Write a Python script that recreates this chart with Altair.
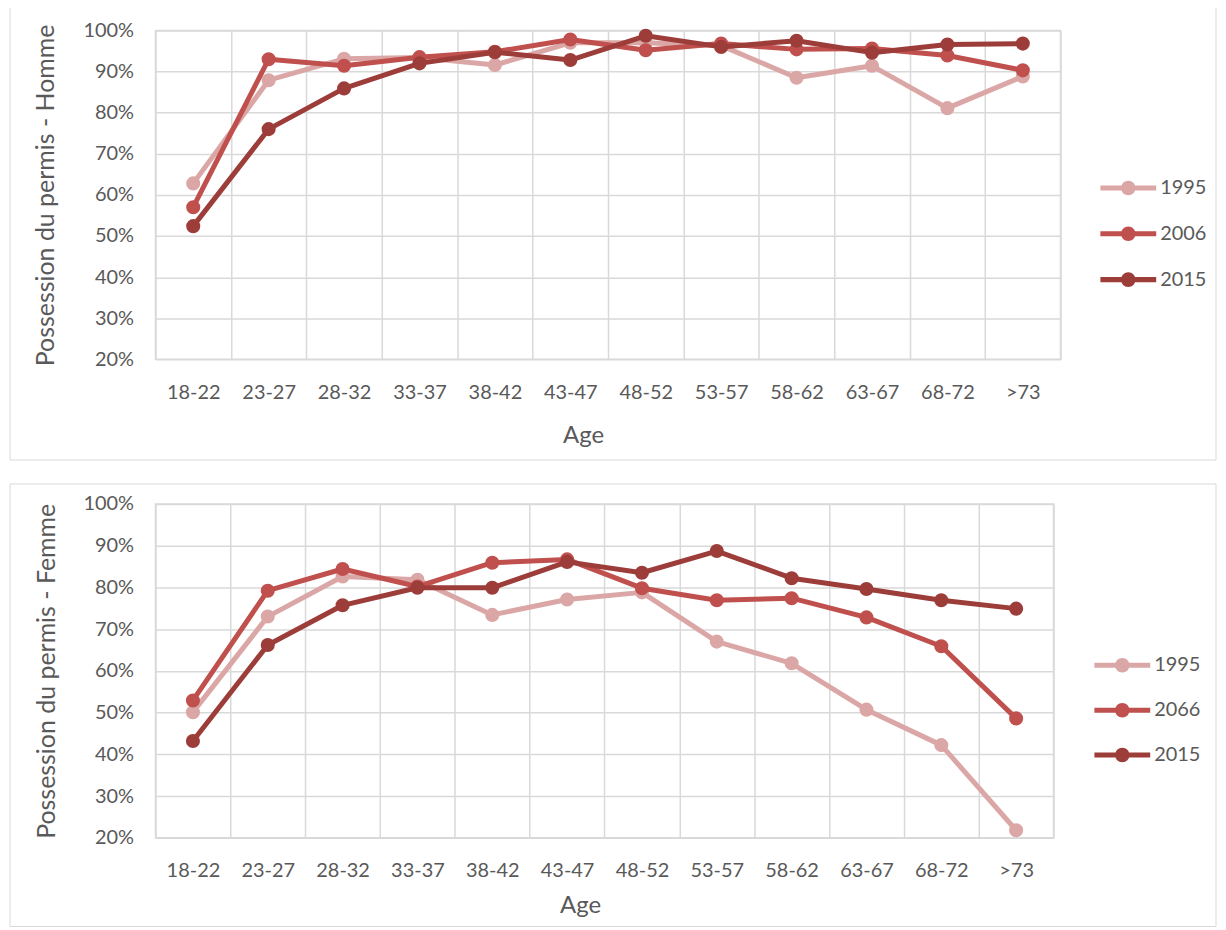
import altair as alt
import pandas as pd

ages = ["18-22", "23-27", "28-32", "33-37", "38-42", "43-47",
        "48-52", "53-57", "58-62", "63-67", "68-72", ">73"]

homme_years = ["1995", "2006", "2015"]
homme_1995 = [62.8, 87.9, 93.1, 93.4, 91.6, 97.0, 97.0, 96.3, 88.5, 91.4, 81.1, 88.8]
homme_2006 = [57.0, 93.0, 91.4, 93.5, 94.8, 97.8, 95.2, 96.8, 95.4, 95.6, 93.9, 90.3]
homme_2015 = [52.4, 76.0, 85.9, 92.0, 94.7, 92.8, 98.7, 96.0, 97.5, 94.6, 96.6, 96.8]

femme_years = ["1995", "2066", "2015"]
femme_1995 = [50.1, 73.0, 82.6, 81.8, 73.4, 77.1, 78.8, 67.0, 61.8, 50.7, 42.2, 21.8]
femme_2066 = [52.9, 79.2, 84.4, 80.2, 85.9, 86.7, 79.8, 76.9, 77.4, 72.8, 65.9, 48.6]
femme_2015 = [43.2, 66.2, 75.7, 79.9, 79.9, 86.1, 83.5, 88.7, 82.2, 79.6, 76.9, 74.9]

y_ticks = [0.2, 0.3, 0.4, 0.5, 0.6, 0.7, 0.8, 0.9, 1.0]
colors = ["#DBA7A6", "#C0504D", "#9C3D3A"]

FONT = "Lato"
TXT = "#595959"
GRID = "#D9D9D9"

LEG_PATH = ("M-1,-0.09 H1 V0.09 H-1 Z "
            "M0.26,0 A0.26,0.26 0 1,1 -0.26,0 A0.26,0.26 0 1,1 0.26,0 Z")


def panel(years, series, ytitle, w, h, frame, title_x, title_y, ytitle_x, xlab_pad,
          leg_x, leg_y, row_pad):
    rows = []
    for yr, vals in zip(years, series):
        for a, v in zip(ages, vals):
            rows.append({"age": a, "year": yr, "value": v / 100})
    df = pd.DataFrame(rows)

    legend = alt.Legend(
        orient="none", legendX=leg_x, legendY=leg_y, title=None,
        symbolType=LEG_PATH, symbolSize=3136, symbolStrokeWidth=0,
        symbolOpacity=1, labelFont=FONT, labelFontSize=20, labelColor=TXT,
        labelOffset=4, rowPadding=row_pad, padding=0,
    )
    color = alt.Color("year:N", scale=alt.Scale(domain=years, range=colors), legend=legend)
    x = alt.X(
        "age:N", sort=ages, title="Age",
        scale=alt.Scale(type="band", domain=ages, paddingInner=0, paddingOuter=0),
        axis=alt.Axis(
            labelAngle=0, tickBand="extent", ticks=False, domain=False, grid=True,
            gridColor=GRID, gridWidth=1.5, labelFont=FONT, labelFontSize=20,
            labelColor=TXT, labelPadding=xlab_pad, titleFont=FONT, titleFontSize=24,
            titleFontWeight="normal", titleColor=TXT, titleX=title_x, titleY=title_y,
            titleBaseline="middle", titleAnchor="middle",
        ),
    )
    y = alt.Y(
        "value:Q", title=ytitle,
        scale=alt.Scale(domain=[0.2, 1.0], nice=False, zero=False),
        axis=alt.Axis(
            values=y_ticks, format=".0%", ticks=False, domain=False, grid=True,
            gridColor=GRID, gridWidth=1.5, labelFont=FONT, labelFontSize=20,
            labelColor=TXT, labelPadding=22, titleFont=FONT, titleFontSize=25,
            titleFontWeight="normal", titleColor=TXT, titleX=ytitle_x, titleY=h / 2,
            titleAngle=270, titleBaseline="middle", titleAlign="center",
        ),
    )
    fx, fx2, fy, fy2 = frame
    layers = [
        alt.Chart(pd.DataFrame({"f": [0]})).mark_rect(
            fill="transparent", stroke=GRID, strokeWidth=1
        ).encode(x=alt.value(fx), x2=alt.value(fx2), y=alt.value(fy), y2=alt.value(fy2))
    ]
    for yr in years:
        base = alt.Chart(df).transform_filter(alt.datum.year == yr)
        layers.append(base.mark_line(strokeWidth=5, strokeJoin="round", strokeCap="round")
                      .encode(x=x, y=y, color=color))
        layers.append(base.mark_circle(size=200, opacity=1)
                      .encode(x=x, y=y, color=color))
    return alt.layer(*layers).properties(width=w, height=h)


top = panel(homme_years, [homme_1995, homme_2006, homme_2015],
            "Possession du permis - Homme", 908, 330,
            (-146, 1064, -23, 431), 429, 76, -110, 23, 948, 130, 8)
bottom = panel(femme_years, [femme_1995, femme_2066, femme_2015],
               "Possession du permis - Femme", 901, 335,
               (-146, 1064, -20, 424), 426, 68, -109, 23, 942, 134, 7)

chart = alt.concat(top, bottom, columns=1, spacing=20).resolve_scale(
    color="independent", x="independent", y="independent"
).resolve_legend(color="independent").properties(
    padding={"top": -4, "left": 0, "right": 0, "bottom": 0}
).configure_view(stroke=GRID, strokeWidth=1.5)

chart.save("out.html", embed_options={"renderer": "svg", "actions": False})
